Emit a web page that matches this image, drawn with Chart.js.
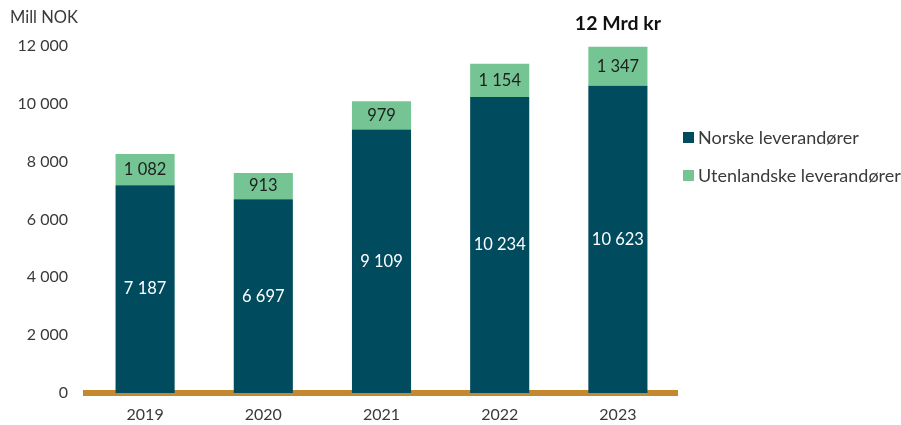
<!DOCTYPE html>
<html>
<head>
<meta charset="utf-8">
<script src="https://cdn.jsdelivr.net/npm/chart.js@4"></script>
<style>
  html, body { margin: 0; padding: 0; background: #fff; }
  #wrap { width: 901px; height: 425px; }
</style>
</head>
<body>
<div id="wrap"><canvas id="leverandorChart" width="901" height="425"></canvas></div>
<script>
const years = ["2019", "2020", "2021", "2022", "2023"];
const norske = [7187, 6697, 9109, 10234, 10623];
const utenlandske = [1082, 913, 979, 1154, 1347];
const yTicks = [0, 2000, 4000, 6000, 8000, 10000, 12000];

const darkTeal = "#004b5e";
const lightGreen = "#74c593";
const gold = "#c4882e";
const textColor = "#3a3a3a";
const fontFamily = "Lato, 'Open Sans', sans-serif";

// tusenskille med mellomrom, som "12 000"
function fmt(v) {
  return String(v).replace(/\B(?=(\d{3})+(?!\d))/g, " ");
}

// verdier inne i stolpene + tittel og tekst over siste stolpe
const labelsPlugin = {
  id: "labelsPlugin",
  afterDatasetsDraw(chart) {
    const c = chart.ctx;
    c.save();
    c.textAlign = "center";
    c.textBaseline = "middle";
    c.font = "16.5px " + fontFamily;
    chart.data.datasets.forEach((ds, i) => {
      chart.getDatasetMeta(i).data.forEach((bar, j) => {
        c.fillStyle = i === 0 ? "#ffffff" : "#1f1f1f";
        const mid = (bar.y + bar.base) / 2;
        c.fillText(fmt(ds.data[j]), bar.x, mid);
      });
    });

    // "12 Mrd kr" over siste stolpe
    const last = chart.getDatasetMeta(1).data[years.length - 1];
    c.font = "bold 19.5px " + fontFamily;
    c.fillStyle = "#111";
    c.fillText("12 Mrd kr", last.x, 24);

    // akse-enhet
    c.font = "16.5px " + fontFamily;
    c.fillStyle = textColor;
    c.textAlign = "left";
    c.fillText("Mill NOK", 10, 18);

    // forklaring til høyre
    const items = [
      { text: "Norske leverandører", color: darkTeal, y: 137 },
      { text: "Utenlandske leverandører", color: lightGreen, y: 175 },
    ];
    c.font = "18px " + fontFamily;
    items.forEach((it) => {
      c.fillStyle = it.color;
      c.fillRect(683, it.y - 5, 11, 11);
      c.fillStyle = textColor;
      c.fillText(it.text, 698, it.y + 1);
    });
    c.restore();
  },
};

const ctx = document.getElementById("leverandorChart").getContext("2d");
const myChart = new Chart(ctx, {
  type: "bar",
  data: {
    labels: years,
    datasets: [
      {
        label: "Norske leverandører",
        data: norske,
        backgroundColor: darkTeal,
        barPercentage: 0.5,
        categoryPercentage: 1.0,
      },
      {
        label: "Utenlandske leverandører",
        data: utenlandske,
        backgroundColor: lightGreen,
        barPercentage: 0.5,
        categoryPercentage: 1.0,
      },
    ],
  },
  options: {
    responsive: false,
    animation: false,
    layout: {
      padding: { top: 46, right: 224, bottom: 0, left: 0 },
    },
    plugins: {
      legend: { display: false },
      tooltip: { enabled: false },
    },
    scales: {
      x: {
        stacked: true,
        grid: { display: false, drawTicks: false },
        border: { display: true, color: gold, width: 6 },
        ticks: {
          color: textColor,
          font: { family: fontFamily, size: 16 },
          padding: 12,
        },
        afterFit(scale) {
          scale.height = 32;
        },
      },
      y: {
        stacked: true,
        min: 0,
        max: 12000,
        afterBuildTicks(scale) {
          scale.ticks = yTicks.map((v) => ({ value: v }));
        },
        grid: { display: false, drawTicks: false },
        border: { display: false },
        ticks: {
          color: textColor,
          font: { family: fontFamily, size: 16 },
          padding: 18,
          callback: (value) => fmt(value),
        },
        afterFit(scale) {
          scale.width = 86;
        },
      },
    },
  },
  plugins: [labelsPlugin],
});
</script>
</body>
</html>
